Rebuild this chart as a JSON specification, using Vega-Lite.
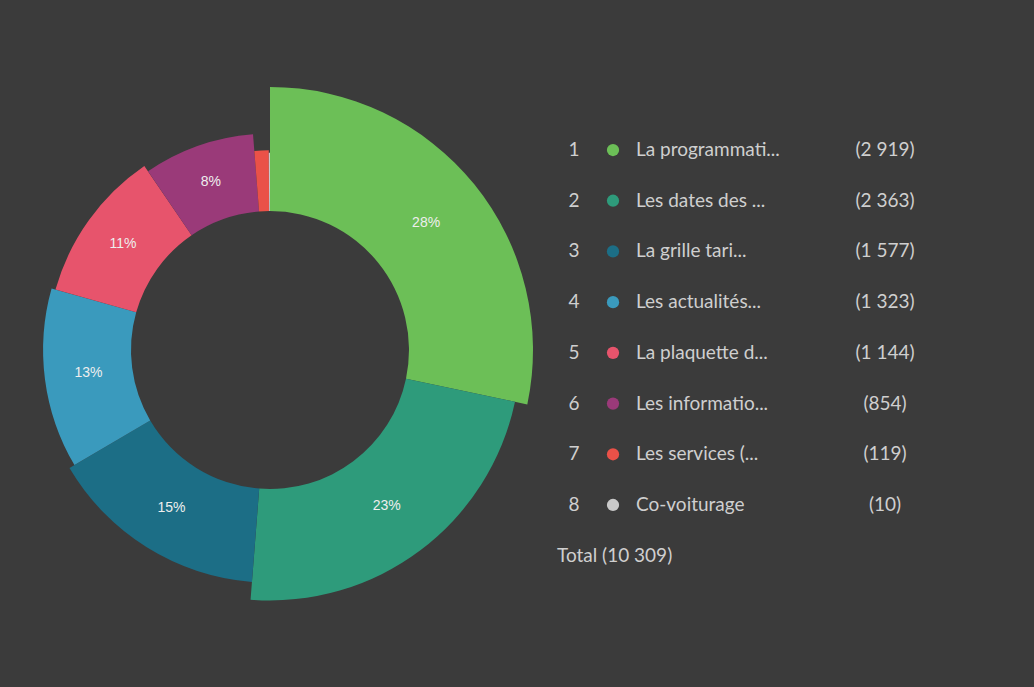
{
  "$schema": "https://vega.github.io/schema/vega-lite/v6.json",
  "background": "#3b3b3b",
  "padding": {"left": 7, "top": 16, "right": 0, "bottom": 3},
  "spacing": 0,
  "config": {"view": {"fill": "#3b3b3b", "stroke": null}, "font": "Lato"},
  "datasets": {
    "d": [
      {"rank": 1, "label": "La programmati...", "count": 2919},
      {"rank": 2, "label": "Les dates des ...", "count": 2363},
      {"rank": 3, "label": "La grille tari...", "count": 1577},
      {"rank": 4, "label": "Les actualités...", "count": 1323},
      {"rank": 5, "label": "La plaquette d...", "count": 1144},
      {"rank": 6, "label": "Les informatio...", "count": 854},
      {"rank": 7, "label": "Les services (...", "count": 119},
      {"rank": 8, "label": "Co-voiturage", "count": 10}
    ]
  },
  "hconcat": [
    {
      "width": 526,
      "height": 668,
      "data": {"name": "d"},
      "transform": [
        {"joinaggregate": [{"op": "sum", "field": "count", "as": "total"}]},
        {"calculate": "round(100 * datum.count / datum.total)", "as": "pct"},
        {"calculate": "datum.pct >= 5 ? datum.pct + '%' : ''", "as": "pctLabel"}
      ],
      "encoding": {
        "theta": {"field": "count", "type": "quantitative", "stack": true},
        "order": {"field": "rank", "type": "quantitative", "sort": "ascending"}
      },
      "layer": [
        {
          "mark": {"type": "arc", "innerRadius": 139, "stroke": null},
          "encoding": {
            "radius": {"field": "count", "type": "quantitative", "scale": {"type": "linear", "domain": [0, 2919], "range": [197, 263], "zero": false}},
            "color": {
              "field": "label", "type": "nominal",
              "scale": {
                "domain": ["La programmati...", "Les dates des ...", "La grille tari...", "Les actualités...", "La plaquette d...", "Les informatio...", "Les services (...", "Co-voiturage"],
                "range": ["#6cbf57", "#2e9b7b", "#1c6e86", "#3a9abd", "#e7546c", "#9a3a79", "#ea5148", "#c9c9c9"]
              },
              "legend": null
            }
          }
        },
        {
          "mark": {"type": "text", "font": "Liberation Sans", "fontSize": 14, "color": "#eeeeee"},
          "encoding": {
            "radius": {"field": "count", "type": "quantitative", "scale": {"type": "linear", "domain": [0, 2919], "range": [168, 201], "zero": false}},
            "text": {"field": "pctLabel"}
          }
        }
      ],
      "resolve": {"scale": {"radius": "independent"}}
    },
    {
      "width": 501,
      "height": 668,
      "data": {"name": "d"},
      "transform": [
        {"calculate": "'(' + replace(format(datum.count, ','), ',', ' ') + ')'", "as": "countLabel"}
      ],
      "layer": [
        {
          "mark": {"type": "text", "align": "center", "fontSize": 19, "color": "#cfcfcf"},
          "encoding": {
            "x": {"datum": 41, "type": "quantitative", "scale": {"domain": [0, 501], "nice": false}, "axis": null},
            "y": {"field": "rank", "type": "quantitative", "scale": {"domain": [-1.643, 11.53], "reverse": true, "nice": false, "zero": false}, "axis": null},
            "text": {"field": "rank"}
          }
        },
        {
          "mark": {"type": "point", "filled": true, "size": 150, "opacity": 1},
          "encoding": {
            "x": {"datum": 80, "type": "quantitative", "axis": null},
            "y": {"field": "rank", "type": "quantitative", "axis": null},
            "color": {"field": "label", "type": "nominal", "legend": null}
          }
        },
        {
          "mark": {"type": "text", "align": "left", "fontSize": 19, "color": "#cfcfcf"},
          "encoding": {
            "x": {"datum": 103, "type": "quantitative", "axis": null},
            "y": {"field": "rank", "type": "quantitative", "axis": null},
            "text": {"field": "label"}
          }
        },
        {
          "mark": {"type": "text", "align": "center", "fontSize": 19, "color": "#cfcfcf"},
          "encoding": {
            "x": {"datum": 352, "type": "quantitative", "axis": null},
            "y": {"field": "rank", "type": "quantitative", "axis": null},
            "text": {"field": "countLabel"}
          }
        },
        {
          "transform": [
            {"aggregate": [{"op": "sum", "field": "count", "as": "total"}]},
            {"calculate": "'Total (' + replace(format(datum.total, ','), ',', ' ') + ')'", "as": "t"},
            {"calculate": "9", "as": "rank"}
          ],
          "mark": {"type": "text", "align": "left", "fontSize": 19, "color": "#cfcfcf"},
          "encoding": {
            "x": {"datum": 24, "type": "quantitative", "axis": null},
            "y": {"field": "rank", "type": "quantitative", "axis": null},
            "text": {"field": "t"}
          }
        }
      ]
    }
  ]
}
